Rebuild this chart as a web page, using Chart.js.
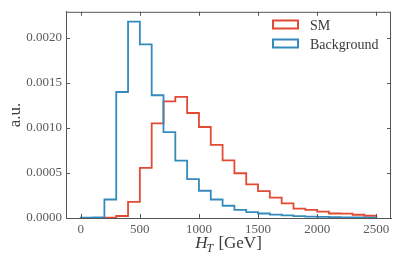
<!DOCTYPE html>
<html><head><meta charset="utf-8">
<script src="https://cdn.jsdelivr.net/npm/chart.js@4.4.0/dist/chart.umd.min.js"></script>
<style>html,body{margin:0;padding:0;background:#fff;overflow:hidden}canvas{display:block}</style>
</head><body>
<canvas id="c" width="398" height="262"></canvas>
<script>
// Histogram bin edges (GeV)
const binEdges = [0,100,200,300,400,500,600,700,800,900,1000,1100,1200,1300,1400,1500,1600,1700,1800,1900,2000,2100,2200,2300,2400,2500];
// Normalised bin contents (a.u.)
const smValues = [0,0,0.000003,0.000022,0.000178,0.000556,0.00105,0.001293,0.001343,0.001164,0.001009,0.000811,0.000639,0.000496,0.000373,0.000299,0.000226,0.000162,0.000103,0.00009,0.000071,0.00005,0.000048,0.000036,0.000025];
const bgValues = [0.000004,0.000006,0.000205,0.001397,0.002177,0.001925,0.001361,0.000952,0.000636,0.000431,0.000302,0.000205,0.000136,0.000089,0.000065,0.00005,0.000038,0.000028,0.00002,0.000015,0.000012,0.000009,0.000007,0.000006,0.000005];
const seriesLabels = ['SM','Background'];
const seriesColors = ['#E24A33','#348ABD'];
const xTickValues = [0,500,1000,1500,2000,2500];
const yTickValues = [0,0.0005,0.001,0.0015,0.002];
const xTitle = ['H','T',' [GeV]'];
const yTitle = 'a.u.';

function stepPoints(values){
  const n = values.length;
  const pts = [{x: binEdges[0], y: 0}];
  values.forEach((v,i)=>pts.push({x: binEdges[i], y: v}));
  pts.push({x: binEdges[n], y: values[n-1]});
  pts.push({x: binEdges[n], y: 0});
  return pts;
}
const xLo = binEdges[0], xHi = binEdges[binEdges.length-1];
const xPad = 0.05*(xHi-xLo);
const yMax = 1.05*Math.max(...smValues, ...bgValues);

const SERIF = '"Liberation Serif", "DejaVu Serif", serif';
const TICK_COLOR = '#5a5a5a';
const LABEL_COLOR = '#3a3a3a';
const SPINE = '#555555';

const framePlugin = {
  id: 'frame',
  afterDatasetsDraw(chart){
    const ctx = chart.ctx, a = chart.chartArea;
    const xs = chart.scales.x, ys = chart.scales.y;
    ctx.save();
    ctx.strokeStyle = SPINE; ctx.lineWidth = 1;
    ctx.beginPath();
    ctx.moveTo(a.left, a.top+0.5); ctx.lineTo(a.right, a.top+0.5);
    ctx.moveTo(a.right-0.5, a.top); ctx.lineTo(a.right-0.5, a.bottom);
    const L = 4;
    xTickValues.forEach(v=>{
      const px = Math.round(xs.getPixelForValue(v))+0.5;
      ctx.moveTo(px, a.bottom); ctx.lineTo(px, a.bottom-L);
      ctx.moveTo(px, a.top); ctx.lineTo(px, a.top+L);
    });
    yTickValues.forEach(v=>{
      const py = Math.round(ys.getPixelForValue(v))+0.5;
      ctx.moveTo(a.left, py); ctx.lineTo(a.left+L, py);
      ctx.moveTo(a.right, py); ctx.lineTo(a.right-L, py);
    });
    ctx.stroke();

    // legend
    chart.data.datasets.forEach((ds,i)=>{
      const cy = 24.5 + i*19;
      ctx.strokeStyle = ds.borderColor; ctx.lineWidth = 2;
      ctx.strokeRect(273, cy-4, 25, 8);
      ctx.fillStyle = LABEL_COLOR;
      ctx.font = '14px ' + SERIF;
      ctx.textAlign = 'left'; ctx.textBaseline = 'alphabetic';
      ctx.fillText(ds.label, 310, cy+5.2);
    });

    // axis titles
    ctx.fillStyle = LABEL_COLOR;
    ctx.font = '17px ' + SERIF;
    ctx.save();
    ctx.translate(20, (a.top+a.bottom)/2);
    ctx.rotate(-Math.PI/2);
    ctx.textAlign = 'center'; ctx.textBaseline = 'alphabetic';
    ctx.fillText(yTitle, 0, 0);
    ctx.restore();

    const fMain = 'italic 17px ' + SERIF, fSub = 'italic 12px ' + SERIF, fRest = '17px ' + SERIF;
    ctx.font = fMain; const w1 = ctx.measureText(xTitle[0]).width;
    ctx.font = fSub; const w2 = ctx.measureText(xTitle[1]).width;
    ctx.font = fRest; const w3 = ctx.measureText(xTitle[2]).width;
    let x0 = (a.left+a.right)/2 - (w1+w2+w3)/2;
    const base = 248;
    ctx.textAlign = 'left'; ctx.textBaseline = 'alphabetic';
    ctx.font = fMain; ctx.fillText(xTitle[0], x0, base);
    ctx.font = fSub; ctx.fillText(xTitle[1], x0+w1-1, base+3.5);
    ctx.font = fRest; ctx.fillText(xTitle[2], x0+w1+w2, base);
    ctx.restore();
  }
};

new Chart(document.getElementById('c'), {
  type: 'line',
  data: {
    datasets: [
      {label: seriesLabels[0], data: stepPoints(smValues), borderColor: seriesColors[0], backgroundColor: '#fff', borderWidth: 1.8, pointRadius: 0, stepped: 'before', fill: false, order: 1},
      {label: seriesLabels[1], data: stepPoints(bgValues), borderColor: seriesColors[1], backgroundColor: '#fff', borderWidth: 1.8, pointRadius: 0, stepped: 'before', fill: false, order: 0}
    ]
  },
  options: {
    responsive: false,
    devicePixelRatio: 1,
    animation: false,
    layout: {padding: {left: 0, right: 7, top: 6, bottom: 0}},
    plugins: {legend: {display: false}, tooltip: {enabled: false}},
    scales: {
      x: {
        type: 'linear', min: xLo - xPad, max: xHi + xPad,
        afterBuildTicks: s => { s.ticks = xTickValues.map(v=>({value: v})); },
        afterFit: s => { s.height = 44; },
        grid: {display: false, drawTicks: false},
        border: {display: true, color: SPINE, width: 1},
        ticks: {padding: 4, maxRotation: 0, autoSkip: false, color: TICK_COLOR, font: {family: SERIF, size: 13}, callback: v => String(v)}
      },
      y: {
        type: 'linear', min: 0, max: yMax,
        afterBuildTicks: s => { s.ticks = yTickValues.map(v=>({value: v})); },
        afterFit: s => { s.width = 66; },
        grid: {display: false, drawTicks: false},
        border: {display: true, color: SPINE, width: 1},
        ticks: {padding: 4, autoSkip: false, color: TICK_COLOR, font: {family: SERIF, size: 13}, callback: v => Number(v).toFixed(4)}
      }
    }
  },
  plugins: [framePlugin]
});
</script>
</body></html>
